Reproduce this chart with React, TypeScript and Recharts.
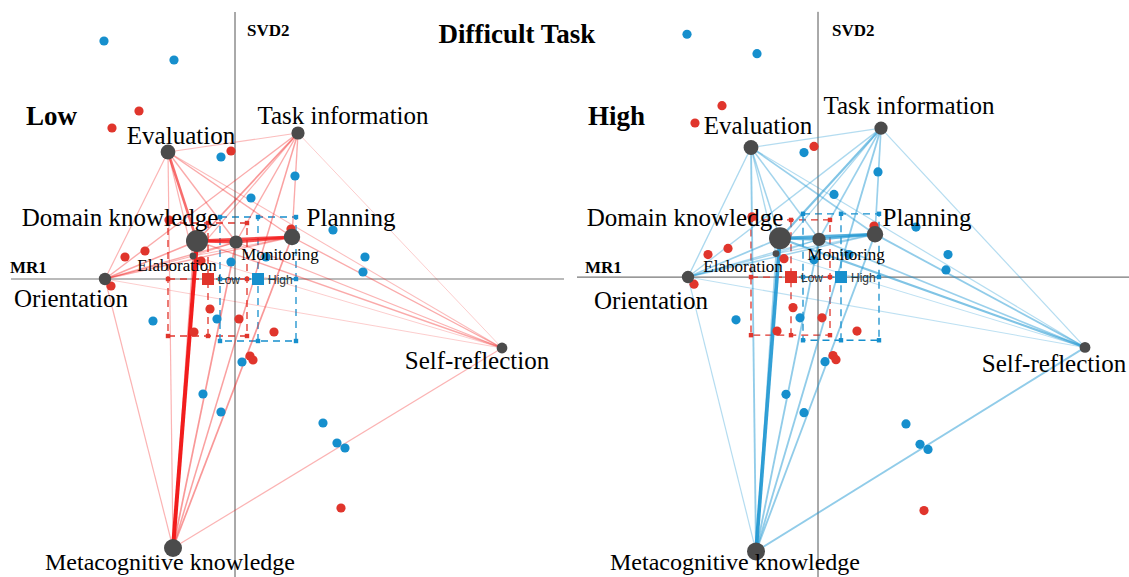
import React from "react";
import { ScatterChart, Scatter, XAxis, YAxis, ReferenceLine, ReferenceArea } from "recharts";

// ENA codes (nodes) and their positions in the projected space
const codes = [
  "Evaluation",
  "Task information",
  "Domain knowledge",
  "Monitoring",
  "Planning",
  "Elaboration",
  "Orientation",
  "Self-reflection",
  "Metacognitive knowledge",
];
const codeX = [-0.67, 0.63, -0.38, 0.01, 0.57, -0.42, -1.3, 2.67, -0.62];
const codeY = [1.27, 1.46, 0.38, 0.37, 0.42, 0.23, 0.0, -0.69, -2.69];
const codeWeight = [0.55, 0.45, 1.0, 0.45, 0.65, 0.05, 0.4, 0.3, 0.75];

// co-occurrence connections between codes (index pairs)
const edgeFrom = [2, 2, 2, 3, 0, 2, 8, 8, 8, 8, 8, 8, 8, 0, 0, 0, 0, 0, 0, 1, 1, 1, 1, 1, 6, 6, 6, 6, 6, 7, 7, 7, 5, 5, 5, 5];
const edgeTo = [8, 4, 3, 4, 2, 1, 3, 4, 1, 5, 6, 0, 7, 1, 4, 3, 7, 6, 5, 4, 3, 6, 7, 5, 2, 3, 4, 7, 5, 2, 3, 4, 2, 3, 4, 7];
const lowWeights = [1.0, 0.75, 0.75, 0.7, 0.55, 0.3, 0.3, 0.3, 0.25, 0.2, 0.15, 0.15, 0.15, 0.1, 0.2, 0.2, 0.1, 0.15, 0.15, 0.2, 0.2, 0.2, 0.05, 0.15, 0.25, 0.2, 0.2, 0.05, 0.15, 0.2, 0.15, 0.2, 0.2, 0.1, 0.1, 0.05];
const highWeights = [0.9, 0.7, 0.6, 0.6, 0.25, 0.45, 0.35, 0.35, 0.35, 0.25, 0.15, 0.35, 0.35, 0.15, 0.3, 0.25, 0.15, 0.2, 0.2, 0.3, 0.3, 0.2, 0.15, 0.2, 0.3, 0.2, 0.25, 0.1, 0.2, 0.45, 0.3, 0.35, 0.2, 0.15, 0.15, 0.1];

// individual learners' network centroids
const lowX = [-0.96, -1.23, -0.04, -0.9, -1.1, -0.34, -0.66, 0.56, -1.24, -0.25, 0.04, -0.41, 0.39, 0.15, 0.18, 1.06];
const lowY = [1.68, 1.51, 1.28, 0.28, 0.22, 0.18, 0.59, 0.5, -0.07, -0.3, -0.4, -0.53, -0.53, -0.77, -0.81, -2.29];
const highX = [-1.31, -0.61, -0.14, 0.6, 0.16, 0.98, 1.3, 1.28, -0.04, 0.31, -0.82, -0.18, 0.07, -0.32, -0.14, 0.88, 1.02, 1.1];
const highY = [2.38, 2.19, 1.22, 1.03, 0.81, 0.49, 0.22, 0.07, 0.17, 0.22, -0.42, -0.4, -0.83, -1.15, -1.33, -1.44, -1.64, -1.69];

// group means and confidence intervals
const groups = ["Low", "High"];
const meanX = [-0.27, 0.23];
const meanY = [0.0, 0.0];
const ciX = [[-0.67, 0.12], [-0.15, 0.61]];
const ciY = [[-0.57, 0.56], [-0.62, 0.62]];

const RED = "#e0352c";
const BLUE = "#168fcd";
const NODE = "#4b4b4b";
const SERIF = "'Liberation Serif', 'Times New Roman', serif";

const W = 564;
const H = 577;

type Offset = [number, number, number];
// label placement per panel: dx, dy, font size
const lowLabels: Offset[] = [
  [13, -17, 25], [45, -18, 25], [-77, -24, 25], [44, 12, 17], [59, -20, 25],
  [-16, 9, 17], [-34, 19, 25], [-25, 12, 25], [-3, 14, 24],
];
const highLabels: Offset[] = [
  [7, -22, 25], [28, -23, 25], [-95, -21, 25], [27, 15, 17], [52, -17, 25],
  [-33, 13, 17], [-37, 23, 25], [-31, 16, 25], [-21, 11, 24],
];

const NodeShape = (props: any) => {
  const { cx, cy, payload } = props;
  return (
    <g>
      <circle cx={cx} cy={cy} r={payload.r} fill={NODE} />
      <text
        x={cx + payload.dx}
        y={cy + payload.dy}
        textAnchor="middle"
        dominantBaseline="central"
        fontFamily={SERIF}
        fontSize={payload.fs}
        fill="#000"
      >
        {payload.name}
      </text>
    </g>
  );
};

const Dot = (color: string) => (props: any) => (
  <circle cx={props.cx} cy={props.cy} r={4.6} fill={color} />
);

const MeanShape = (props: any) => {
  const { cx, cy, payload } = props;
  return (
    <g>
      <rect x={cx - 6} y={cy - 6} width={12} height={12} fill={payload.color} />
      <text x={cx + 10} y={cy + 1} dominantBaseline="central" fontFamily="'Liberation Sans', Arial, sans-serif" fontSize={12} fill="#333">
        {payload.name}
      </text>
    </g>
  );
};

const TickShape = (props: any) => (
  <rect x={props.cx - 2.2} y={props.cy - 2.2} width={4.4} height={4.4} fill={props.payload.color} />
);

interface PanelProps {
  left: number;
  xDomain: [number, number];
  yDomain: [number, number];
  weights: number[];
  edgeColor: string;
  labels: Offset[];
  axisTop: number;
  axisLeft: number;
}

const Panel: React.FC<PanelProps> = ({ left, xDomain, yDomain, weights, edgeColor, labels, axisTop, axisLeft }) => {
  const nodes = codes.map((name, i) => ({
    name,
    x: codeX[i],
    y: codeY[i],
    r: 3 + codeWeight[i] * 8,
    dx: labels[i][0],
    dy: labels[i][1],
    fs: labels[i][2],
  }));
  const lows = lowX.map((x, i) => ({ x, y: lowY[i] }));
  const highs = highX.map((x, i) => ({ x, y: highY[i] }));
  const colors = [RED, BLUE];
  const means = groups.map((name, i) => ({ name, x: meanX[i], y: meanY[i], color: colors[i] }));
  const ticks: { x: number; y: number; color: string }[] = [];
  groups.forEach((_, g) => {
    [ciX[g][0], meanX[g], ciX[g][1]].forEach((x) =>
      [ciY[g][0], meanY[g], ciY[g][1]].forEach((y) => {
        if (!(x === meanX[g] && y === meanY[g])) ticks.push({ x, y, color: colors[g] });
      })
    );
  });

  return (
    <div style={{ position: "absolute", left, top: 0 }}>
      <ScatterChart width={W} height={H} margin={{ top: 0, right: 0, bottom: 0, left: 0 }}>
        <XAxis type="number" dataKey="x" domain={xDomain} hide allowDataOverflow />
        <YAxis type="number" dataKey="y" domain={yDomain} hide allowDataOverflow />
        {/* axes through the origin */}
        <ReferenceLine segment={[{ x: 0, y: axisTop }, { x: 0, y: yDomain[0] }]} stroke="#555" strokeWidth={1} ifOverflow="visible" />
        <ReferenceLine segment={[{ x: axisLeft, y: 0 }, { x: xDomain[1], y: 0 }]} stroke="#777" strokeWidth={1.2} ifOverflow="visible" />
        {/* confidence intervals */}
        {groups.map((g, i) => (
          <ReferenceArea
            key={`ci-${g}`}
            x1={ciX[i][0]}
            x2={ciX[i][1]}
            y1={ciY[i][0]}
            y2={ciY[i][1]}
            fill="none"
            fillOpacity={0}
            stroke={colors[i]}
            strokeWidth={1.3}
            strokeDasharray="7 5"
            ifOverflow="visible"
          />
        ))}
        {groups.map((g, i) => (
          <ReferenceLine
            key={`civ-${g}`}
            segment={[{ x: meanX[i], y: ciY[i][0] }, { x: meanX[i], y: ciY[i][1] }]}
            stroke={colors[i]}
            strokeWidth={1.3}
            strokeDasharray="7 5"
            ifOverflow="visible"
          />
        ))}
        {groups.map((g, i) => (
          <ReferenceLine
            key={`cih-${g}`}
            segment={[{ x: ciX[i][0], y: meanY[i] }, { x: ciX[i][1], y: meanY[i] }]}
            stroke={colors[i]}
            strokeWidth={1.3}
            strokeDasharray="7 5"
            ifOverflow="visible"
          />
        ))}
        {/* network connections */}
        {weights.map((w, k) => (
          <ReferenceLine
            key={`e-${k}`}
            segment={[
              { x: codeX[edgeFrom[k]], y: codeY[edgeFrom[k]] },
              { x: codeX[edgeTo[k]], y: codeY[edgeTo[k]] },
            ]}
            stroke={edgeColor}
            strokeWidth={0.7 + w * 3.3}
            strokeOpacity={0.22 + w * 0.78}
            ifOverflow="visible"
          />
        ))}
        <Scatter data={ticks} shape={TickShape} isAnimationActive={false} />
        <Scatter data={lows} shape={Dot(RED)} isAnimationActive={false} />
        <Scatter data={highs} shape={Dot(BLUE)} isAnimationActive={false} />
        <Scatter data={nodes} shape={NodeShape} isAnimationActive={false} />
        <Scatter data={means} shape={MeanShape} isAnimationActive={false} />
      </ScatterChart>
    </div>
  );
};

export default function App() {
  return (
    <div style={{ position: "absolute", left: 0, top: 0, width: 1129, height: 577, background: "#fff", overflow: "hidden" }}>
      <Panel
        left={0}
        xDomain={[-2.35, 3.29]}
        yDomain={[-2.98, 2.79]}
        weights={lowWeights}
        edgeColor="#f21d1d"
        labels={lowLabels}
        axisTop={2.67}
        axisLeft={-2.24}
      />
      <Panel
        left={565}
        xDomain={[-2.53, 3.11]}
        yDomain={[-2.941, 2.716]}
        weights={highWeights}
        edgeColor="#2198d2"
        labels={highLabels}
        axisTop={2.6}
        axisLeft={-2.41}
      />
      <svg width={1129} height={577} style={{ position: "absolute", left: 0, top: 0, pointerEvents: "none" }}>
        <g fontFamily={SERIF} fontWeight="bold" fill="#000">
          <text x={517} y={34} textAnchor="middle" dominantBaseline="central" fontSize={27}>Difficult Task</text>
          <text x={26} y={116} dominantBaseline="central" fontSize={27}>Low</text>
          <text x={588} y={116} dominantBaseline="central" fontSize={27}>High</text>
          <text x={247} y={30} dominantBaseline="central" fontSize={17}>SVD2</text>
          <text x={832} y={30} dominantBaseline="central" fontSize={17}>SVD2</text>
          <text x={10} y={267} dominantBaseline="central" fontSize={17}>MR1</text>
          <text x={585} y={267} dominantBaseline="central" fontSize={17}>MR1</text>
        </g>
      </svg>
    </div>
  );
}
